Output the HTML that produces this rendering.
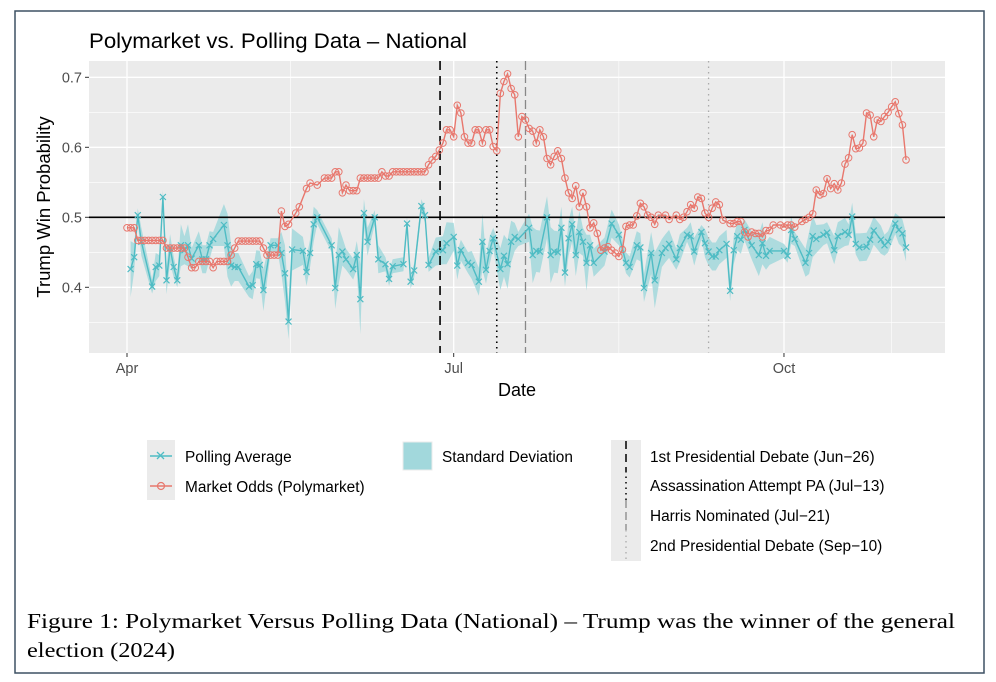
<!DOCTYPE html>
<html><head><meta charset="utf-8"><style>
body{margin:0;background:#fff;}
svg{display:block;font-family:"Liberation Sans",sans-serif;}
</style></head><body>
<svg id="chart" width="996" height="682" viewBox="0 0 996 682" xmlns="http://www.w3.org/2000/svg">
<rect x="15" y="11" width="969" height="662" fill="#fff" stroke="#3d5163" stroke-width="1.5"/>
<text x="89" y="48" font-size="21.5" fill="#000" textLength="378" lengthAdjust="spacingAndGlyphs">Polymarket vs. Polling Data – National</text>
<rect x="89" y="61" width="856" height="292" fill="#ebebeb"/>
<g id="grid"></g>
<g id="band"></g>
<g id="events"></g>
<line x1="89" x2="945" y1="217.3" y2="217.3" stroke="#000" stroke-width="1.6"/>
<g id="poll"></g>
<g id="market"></g>
<g id="axes"></g>
<text x="517" y="396" font-size="18" text-anchor="middle">Date</text>
<text transform="translate(50,207) rotate(-90)" font-size="18.5" text-anchor="middle">Trump Win Probability</text>

<g font-size="15.4">
<rect x="147" y="440" width="28" height="60" fill="#ebebeb"/>
<g>
<line x1="150" x2="172" y1="456" y2="456" stroke="#4fbcc4" stroke-width="1.5"/>
<path d="M157,452 l7,7 M164,452 l-7,7" stroke="#4fbcc4" stroke-width="1.3"/>
<text x="185" y="462">Polling Average</text></g>
<g>
<line x1="150" x2="172" y1="486" y2="486" stroke="#e8776d" stroke-width="1.5"/>
<circle cx="161" cy="486" r="3.5" fill="none" stroke="#e8776d" stroke-width="1.2"/>
<text x="185" y="492">Market Odds (Polymarket)</text></g>
<g>
<rect x="403" y="442" width="29" height="28" fill="#a2d8dc" stroke="#ebebeb"/>
<text x="442" y="462">Standard Deviation</text></g>
<rect x="611" y="440" width="30" height="121" fill="#ebebeb"/>
<line x1="626" x2="626" y1="441" y2="471" stroke="#000" stroke-width="1.5" stroke-dasharray="8,5"/>
<line x1="626" x2="626" y1="471" y2="500" stroke="#000" stroke-width="1.5" stroke-dasharray="1.5,4"/>
<line x1="626" x2="626" y1="500" y2="530" stroke="#888" stroke-width="1.3" stroke-dasharray="8,4"/>
<line x1="626" x2="626" y1="530" y2="560" stroke="#aaa" stroke-width="1.3" stroke-dasharray="1.5,4"/>
<text x="650" y="462">1st Presidential Debate (Jun−26)</text>
<text x="650" y="491">Assassination Attempt PA (Jul−13)</text>
<text x="650" y="521">Harris Nominated (Jul−21)</text>
<text x="650" y="551">2nd Presidential Debate (Sep−10)</text>
</g>
<g font-family="Liberation Serif, serif" font-size="21">
<text x="27" y="628" textLength="928" lengthAdjust="spacingAndGlyphs">Figure 1: Polymarket Versus Polling Data (National) – Trump was the winner of the general</text>
<text x="27" y="657" textLength="148" lengthAdjust="spacingAndGlyphs">election (2024)</text>
</g>
</svg>
<script>
// days since Apr 1, 2024
const marketDays=[0,1,2,3,4,5,6,7,8,9,10,11,12,13,14,15,16,17,18,19,20,21,22,23,24,25,26,27,28,29,30,31,32,33,34,35,36,37,38,39,40,41,42,43,44,45,47,48,50,51,53,55,56,57,58,59,60,61,62,63,64,65,66,67,68,69,70,71,72,73,74,75,76,77,78,79,80,81,82,83,84,85,86,87,88,89,90,91,92,93,94,95,96,97,98,99,100,101,102,103,104,105,106,107,108,109,110,111,112,113,114,115,116,117,118,119,120,121,122,123,124,125,126,127,128,129,130,131,132,133,134,135,136,137,138,139,140,141,142,143,144,145,146,147,148,150,151,153,154,155,156,157,158,159,160,161,162,163,164,165,166,168,169,170,171,172,173,174,175,176,177,178,179,180,182,183,184,185,186,188,189,190,191,192,193,194,195,196,197,198,199,200,201,202,203,204,205,206,207,208,209,210,211,212,213,214,215,216,217];
const marketVals=[0.485,0.485,0.485,0.467,0.467,0.467,0.467,0.467,0.467,0.467,0.467,0.456,0.456,0.456,0.456,0.456,0.456,0.443,0.428,0.428,0.437,0.437,0.437,0.437,0.428,0.437,0.437,0.437,0.437,0.446,0.456,0.466,0.466,0.466,0.466,0.466,0.466,0.466,0.456,0.446,0.446,0.446,0.446,0.509,0.487,0.49,0.506,0.515,0.541,0.549,0.546,0.556,0.556,0.556,0.565,0.565,0.535,0.546,0.538,0.538,0.538,0.556,0.556,0.556,0.556,0.556,0.556,0.565,0.559,0.559,0.565,0.565,0.565,0.565,0.565,0.565,0.565,0.565,0.565,0.565,0.575,0.582,0.587,0.596,0.606,0.625,0.625,0.615,0.660,0.649,0.615,0.606,0.606,0.625,0.625,0.606,0.625,0.625,0.601,0.595,0.677,0.694,0.705,0.684,0.675,0.615,0.644,0.639,0.627,0.623,0.606,0.625,0.615,0.584,0.575,0.587,0.595,0.584,0.556,0.535,0.527,0.545,0.515,0.535,0.515,0.485,0.492,0.477,0.453,0.456,0.458,0.453,0.449,0.444,0.454,0.487,0.489,0.489,0.502,0.52,0.515,0.503,0.5,0.49,0.503,0.503,0.497,0.503,0.497,0.5,0.508,0.518,0.513,0.529,0.527,0.506,0.5,0.513,0.522,0.518,0.496,0.491,0.491,0.494,0.494,0.479,0.472,0.479,0.477,0.477,0.472,0.481,0.481,0.489,0.489,0.486,0.489,0.489,0.486,0.494,0.497,0.5,0.505,0.539,0.532,0.534,0.555,0.541,0.548,0.539,0.549,0.576,0.585,0.618,0.598,0.599,0.606,0.649,0.646,0.615,0.639,0.637,0.644,0.65,0.658,0.665,0.648,0.632,0.582,0.558,0.563];
const pollDays=[1,2,3,4,7,8,9,10,11,12,13,14,15,16,17,18,20,21,22,23,24,27,28,29,30,31,34,35,36,37,38,40,42,43,44,45,46,49,50,51,52,53,57,58,59,60,61,63,64,65,66,67,69,70,72,73,74,77,78,79,80,82,83,84,86,88,89,91,92,93,95,96,98,99,100,101,102,104,105,106,107,108,109,112,113,114,115,117,118,119,120,121,122,123,124,125,126,127,128,129,130,133,135,137,139,140,142,143,144,146,147,149,150,151,153,154,156,157,158,160,161,162,163,164,165,167,168,169,170,171,172,174,176,177,178,179,183,184,185,186,189,190,191,192,194,195,197,198,200,201,202,203,204,206,207,208,210,211,212,214,215,216,217];
const pollVals=[0.426,0.443,0.503,0.465,0.401,0.429,0.431,0.529,0.41,0.456,0.429,0.41,0.46,0.453,0.46,0.441,0.46,0.44,0.44,0.46,0.469,0.489,0.46,0.431,0.429,0.429,0.401,0.403,0.433,0.432,0.396,0.46,0.46,0.449,0.42,0.351,0.454,0.452,0.422,0.449,0.49,0.5,0.46,0.399,0.446,0.451,0.44,0.426,0.446,0.383,0.506,0.465,0.5,0.44,0.433,0.412,0.43,0.433,0.491,0.408,0.424,0.516,0.503,0.432,0.451,0.453,0.463,0.472,0.431,0.453,0.435,0.432,0.408,0.465,0.425,0.452,0.47,0.426,0.445,0.433,0.465,0.472,0.469,0.485,0.446,0.452,0.451,0.5,0.446,0.451,0.45,0.485,0.421,0.47,0.49,0.446,0.479,0.465,0.435,0.46,0.435,0.451,0.491,0.475,0.435,0.429,0.46,0.457,0.399,0.449,0.41,0.449,0.456,0.462,0.44,0.456,0.475,0.473,0.451,0.479,0.463,0.451,0.444,0.444,0.453,0.462,0.395,0.453,0.473,0.468,0.482,0.46,0.446,0.463,0.445,0.452,0.452,0.445,0.482,0.469,0.435,0.449,0.473,0.469,0.475,0.478,0.453,0.473,0.479,0.475,0.501,0.462,0.457,0.458,0.468,0.481,0.468,0.46,0.465,0.491,0.482,0.477,0.457,0.46];
const pollSd=[0.04,0.02,0.01,0.02,0.01,0.02,0.015,0.01,0.02,0.02,0.015,0.01,0.03,0.02,0.03,0.015,0.02,0.02,0.02,0.02,0.01,0.03,0.045,0.03,0.02,0.02,0.015,0.02,0.02,0.02,0.03,0.01,0.01,0.03,0.04,0.025,0.03,0.02,0.02,0.02,0.025,0.01,0.01,0.03,0.04,0.02,0.015,0.015,0.02,0.05,0.02,0.02,0.01,0.02,0.01,0.01,0.01,0.01,0.01,0.01,0.01,0.01,0.01,0.01,0.02,0.02,0.03,0.02,0.02,0.015,0.015,0.02,0.02,0.04,0.02,0.02,0.015,0.03,0.03,0.035,0.03,0.02,0.01,0.02,0.04,0.03,0.03,0.03,0.04,0.03,0.03,0.03,0.02,0.025,0.025,0.03,0.03,0.02,0.04,0.015,0.02,0.02,0.02,0.015,0.015,0.015,0.02,0.02,0.02,0.03,0.04,0.02,0.02,0.02,0.015,0.02,0.01,0.02,0.02,0.01,0.02,0.02,0.02,0.02,0.02,0.02,0.015,0.02,0.02,0.02,0.015,0.02,0.03,0.03,0.02,0.02,0.01,0.01,0.02,0.01,0.02,0.03,0.03,0.02,0.015,0.015,0.02,0.02,0.02,0.015,0.02,0.015,0.02,0.02,0.02,0.02,0.02,0.015,0.015,0.015,0.02,0.02,0.02,0.02,0.03];
const eventDays=[87.2,103,111,162];
const eventStyles=[["#000","9,6",1.6],["#000","1.5,4",1.6],["#888","9,4",1.3],["#aaa","1.5,4",1.3]];
const yTicks=[0.4,0.5,0.6,0.7];
const xTickDays=[0,91,183];
const xTickLabels=["Apr","Jul","Oct"];

const NS="http://www.w3.org/2000/svg";
const X=d=>127+d*3.59;
const Y=v=>217.3-(v-0.5)*700;
function mk(tag,parent,attrs){const e=document.createElementNS(NS,tag);for(const k in attrs)e.setAttribute(k,attrs[k]);parent.appendChild(e);return e;}
const grid=document.getElementById('grid');
[0.35,0.45,0.55,0.65].forEach(v=>{const l=mk('line',grid,{x1:89,x2:945,y1:Y(v),y2:Y(v),stroke:'#fff','stroke-width':0.6});

});
[45.5,137,213].forEach(d=>{const l=mk('line',grid,{x1:X(d),x2:X(d),y1:61,y2:353,stroke:'#fff','stroke-width':0.6});

});
yTicks.forEach(v=>{const l=mk('line',grid,{x1:89,x2:945,y1:Y(v),y2:Y(v),stroke:'#fff','stroke-width':1.3});

});
xTickDays.forEach(d=>{const l=mk('line',grid,{x1:X(d),x2:X(d),y1:61,y2:353,stroke:'#fff','stroke-width':1.3});

});
const axes=document.getElementById('axes');
yTicks.forEach(v=>{mk('line',axes,{x1:85,x2:89,y1:Y(v),y2:Y(v),stroke:'#333','stroke-width':1});
const t=mk('text',axes,{x:82,y:Y(v)+5,'font-size':14.5,fill:'#4d4d4d','text-anchor':'end'});t.textContent=v.toFixed(1);

});
xTickDays.forEach((d,i)=>{mk('line',axes,{x1:X(d),x2:X(d),y1:353,y2:357,stroke:'#333','stroke-width':1});
const t=mk('text',axes,{x:X(d),y:373,'font-size':14.5,fill:'#4d4d4d','text-anchor':'middle'});t.textContent=xTickLabels[i];

});
// band
let up=pollDays.map((d,i)=>X(d)+','+Y(pollVals[i]+pollSd[i]));
let lo=pollDays.map((d,i)=>X(d)+','+Y(pollVals[i]-pollSd[i])).reverse();
const bp=mk('polygon',document.getElementById('band'),{points:up.concat(lo).join(' '),fill:'#a2d8dc',opacity:0.85});


// events
const ev=document.getElementById('events');
eventDays.forEach((d,i)=>{const s=eventStyles[i];const l=mk('line',ev,{x1:X(d),x2:X(d),y1:61,y2:353,stroke:s[0],'stroke-dasharray':s[1],'stroke-width':s[2]});

});
// poll
const pg=document.getElementById('poll');
const pl=mk('polyline',pg,{points:pollDays.map((d,i)=>X(d)+','+Y(pollVals[i])).join(' '),fill:'none',stroke:'#4fbcc4','stroke-width':1.4});


pollDays.forEach((d,i)=>{const x=X(d),y=Y(pollVals[i]);const p=mk('path',pg,{d:`M${x-3},${y-3}L${x+3},${y+3}M${x+3},${y-3}L${x-3},${y+3}`,stroke:'#4fbcc4','stroke-width':1.2});

});
// market
const mg=document.getElementById('market');
const ml=mk('polyline',mg,{points:marketDays.map((d,i)=>X(d)+','+Y(marketVals[i])).join(' '),fill:'none',stroke:'#e8776d','stroke-width':1.4});


marketDays.forEach((d,i)=>{const c=mk('circle',mg,{cx:X(d),cy:Y(marketVals[i]),r:3.3,fill:'none',stroke:'#e8776d','stroke-width':1});

});
</script>
</body></html>
